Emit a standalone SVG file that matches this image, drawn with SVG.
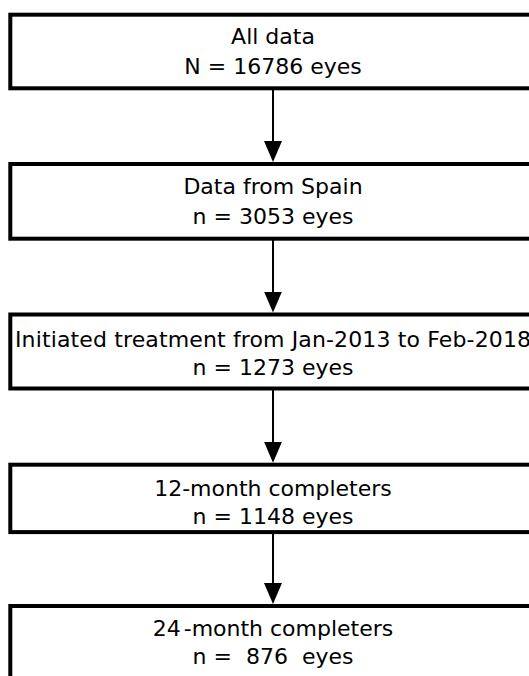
<svg xmlns="http://www.w3.org/2000/svg" width="529" height="676" viewBox="0 0 529 676">
  <style>
    .box { fill: #fff; stroke: #000; stroke-width: 4; }
    .lbl { font-family: "DejaVu Sans", Verdana, sans-serif; font-size: 22px; fill: #000; text-anchor: middle; }
    .conn { stroke: #000; stroke-width: 2; fill: none; marker-end: url(#arrow); }
  </style>
  <defs>
    <marker id="arrow" markerUnits="userSpaceOnUse" viewBox="0 0 21 18" markerWidth="21" markerHeight="18" refX="9" refY="9" orient="auto">
      <path d="M0,0 L21,9 L0,18 Z" fill="#000"/>
    </marker>
  </defs>
  <rect width="529" height="676" fill="#fff"/>
  <g id="connectors">
    <line class="conn" x1="273" y1="90" x2="273" y2="150"/>
    <line class="conn" x1="273" y1="240" x2="273" y2="300.5"/>
    <line class="conn" x1="273" y1="390" x2="273" y2="450.7"/>
    <line class="conn" x1="273" y1="533" x2="273" y2="592"/>
  </g>
  <g id="all-data">
    <rect class="box" x="10.3" y="14.7" width="524" height="73.6"/>
    <text class="lbl" x="273" y="44">All data</text>
    <text class="lbl" x="273" y="73.5">N = 16786 eyes</text>
  </g>
  <g id="spain">
    <rect class="box" x="10.3" y="164" width="524" height="74.7"/>
    <text class="lbl" x="273" y="194">Data from Spain</text>
    <text class="lbl" x="273" y="223.5">n = 3053 eyes</text>
  </g>
  <g id="initiated">
    <rect class="box" x="10.3" y="314.5" width="524" height="74"/>
    <text class="lbl" x="273" y="346.5" textLength="516" lengthAdjust="spacing">Initiated treatment from Jan-2013 to Feb-2018</text>
    <text class="lbl" x="273" y="375">n = 1273 eyes</text>
  </g>
  <g id="m12">
    <rect class="box" x="10.3" y="464.7" width="524" height="67.4"/>
    <text class="lbl" x="273" y="495.5">12-month completers</text>
    <text class="lbl" x="273" y="524">n = 1148 eyes</text>
  </g>
  <g id="m24">
    <rect class="box" x="10.3" y="606" width="524" height="90"/>
    <text class="lbl" x="273" y="635.5">24<tspan dx="3">-month completers</tspan></text>
    <text class="lbl" x="273" y="664">n =<tspan dx="7"> 876</tspan><tspan dx="7"> eyes</tspan></text>
  </g>
</svg>
